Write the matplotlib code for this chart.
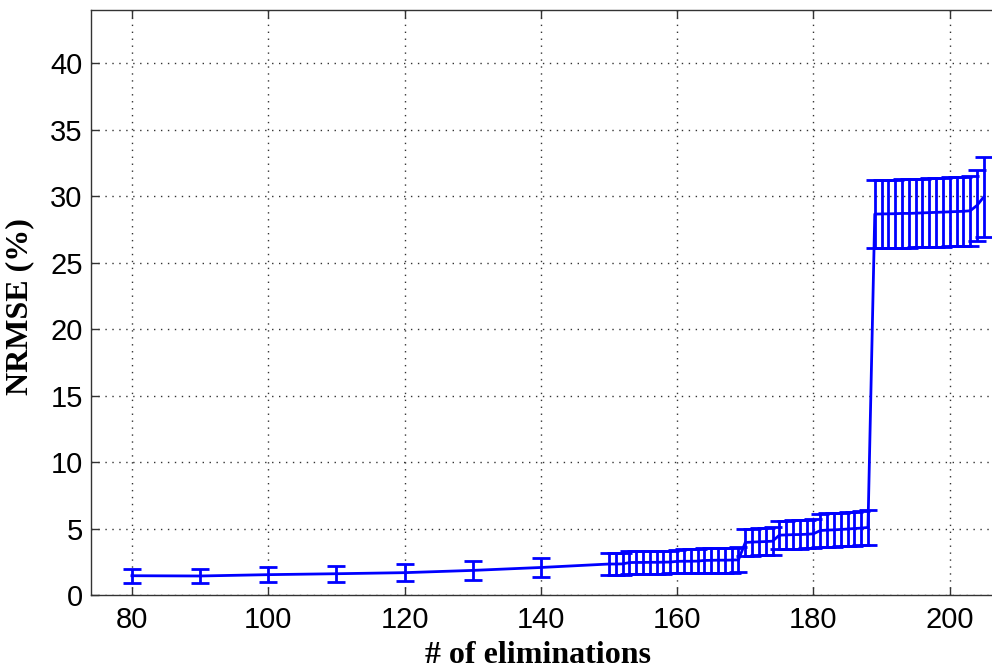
"""
NRMSE vs number of eliminations, errorbar plot (matlab look)
"""

import numpy as np
import matplotlib
matplotlib.use('Agg')
import matplotlib.pyplot as plt

# data
x_coarse = [80, 90, 100, 110, 120, 130, 140]
nrmse_coarse = [1.45, 1.43, 1.53, 1.60, 1.68, 1.85, 2.07]
err_coarse = [0.52, 0.50, 0.58, 0.60, 0.65, 0.72, 0.74]

x_fine = list(range(150, 206))
nrmse_fine = [2.33, 2.33, 2.34, 2.44, 2.45, 2.45, 2.46, 2.46, 2.47, 2.48,
              2.53, 2.54, 2.54, 2.55, 2.60, 2.61, 2.62, 2.62, 2.63, 2.64,
              3.95, 3.98, 4.00, 4.02, 4.05,
              4.50, 4.52, 4.54, 4.55, 4.57, 4.60,
              4.85, 4.88, 4.90, 4.93, 4.96, 5.00, 5.03, 5.08,
              28.65, 28.66, 28.67, 28.68, 28.70, 28.70, 28.72, 28.74, 28.76,
              28.78, 28.80, 28.82, 28.84, 28.86, 28.90,
              29.30, 29.95]
err_fine = [0.85, 0.85, 0.85, 0.86, 0.86, 0.86, 0.86, 0.86, 0.86, 0.86,
            0.89, 0.89, 0.89, 0.89, 0.93, 0.93, 0.93, 0.93, 0.94, 0.94,
            1.02, 1.02, 1.02, 1.02, 1.03,
            1.06, 1.06, 1.07, 1.07, 1.07, 1.08,
            1.25, 1.25, 1.26, 1.27, 1.28, 1.28, 1.29, 1.30,
            2.55, 2.56, 2.56, 2.57, 2.57, 2.58, 2.58, 2.58, 2.59,
            2.59, 2.60, 2.60, 2.60, 2.61, 2.62,
            2.65, 3.00]

x = x_coarse + x_fine
nrmse = nrmse_coarse + nrmse_fine
err = err_coarse + err_fine

xticks = [80, 100, 120, 140, 160, 180, 200]
yticks = [0, 5, 10, 15, 20, 25, 30, 35, 40]

# PLOTTING
plt.close('all')

fig = plt.figure(figsize=(9.92, 6.69), dpi=100)
ax = fig.add_axes([91/992, 74/669, 1 - 91/992, 585/669])

ax.errorbar(x, nrmse, yerr=err, color='#0000FF', linewidth=2.0,
            elinewidth=2.0, capsize=6.5, capthick=2.0)

ax.set_xlim(74, 206.2)
ax.set_ylim(0, 44)
ax.set_xticks(xticks)
ax.set_yticks(yticks)

ax.grid(True, color='#333333', linestyle=(0, (1, 4)), linewidth=1.0)

for side in ['left', 'bottom', 'top']:
    ax.spines[side].set_color('#333333')
    ax.spines[side].set_linewidth(1.0)
ax.spines['right'].set_visible(False)

ax.tick_params(direction='in', length=6, width=1, color='#333333',
               top=True, right=False, labelsize=21, pad=6)
for lab in ax.get_xticklabels() + ax.get_yticklabels():
    lab.set_family('Liberation Sans')
ax.tick_params(axis='x', pad=8)

fig.text(20/992, 1 - 307/669, 'NRMSE (%)', rotation=90, ha='center',
         va='center', family='Liberation Serif', fontweight='bold', fontsize=23)
fig.text(538/992, 1 - 663/669, '# of eliminations', ha='center',
         va='baseline', family='Liberation Serif', fontweight='bold', fontsize=23)

fig.savefig('out.png', dpi=100)
